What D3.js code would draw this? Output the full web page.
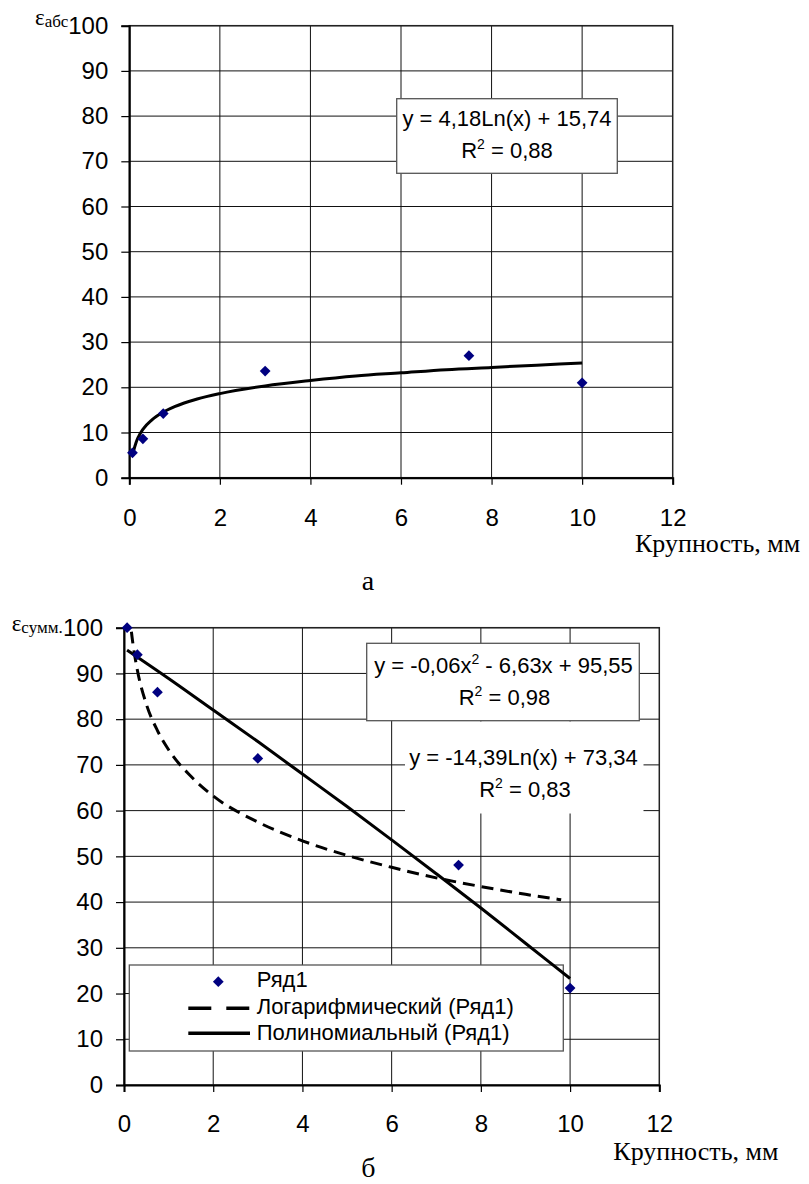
<!DOCTYPE html>
<html>
<head>
<meta charset="utf-8">
<script src="https://cdn.jsdelivr.net/npm/d3@7"></script>
<style>
  body { margin: 0; background: #fff; }
  .tick text { font-family: "Liberation Sans", Arial, sans-serif; font-size: 24px; fill: #000; }
  .eq { font-family: "Liberation Sans", Arial, sans-serif; font-size: 22px; fill: #000; }
  .serif { font-family: "Liberation Serif", "Times New Roman", serif; fill: #000; }
</style>
</head>
<body>
<svg id="chart" width="809" height="1184"></svg>
<script>
// axis ticks (both panels)
var xTicks = [0, 2, 4, 6, 8, 10, 12];
var yTicks = [0, 10, 20, 30, 40, 50, 60, 70, 80, 90, 100];

// panel a: points
var sizeA = [0.07, 0.3, 0.75, 3, 7.5, 10];
var epsAbs = [5.5, 8.6, 14.2, 23.6, 27.0, 21.0];
// panel a: logarithmic trend line
var logTrendAX = [0.07, 0.1, 0.15, 0.2, 0.3, 0.5, 0.75, 1, 1.5, 2, 3, 4, 5, 6, 7, 8, 9, 10];
var logTrendAY = [4.8, 6.1, 7.8, 9.0, 10.7, 12.8, 14.5, 15.7, 17.4, 18.6, 20.3, 21.5, 22.5, 23.2, 23.9, 24.4, 24.9, 25.4];

// panel b: points
var sizeB = [0.07, 0.3, 0.75, 3, 7.5, 10];
var epsSum = [100, 94.1, 85.9, 71.4, 48.1, 21.2];
// panel b: logarithmic trend (dashed)
var logTrendBX = [0.07, 0.1, 0.15, 0.2, 0.3, 0.5, 0.75, 1, 1.5, 2, 3, 4, 5, 6, 7, 8, 9, 9.8];
var logTrendBY = [111.6, 106.5, 100.6, 96.5, 90.7, 83.3, 77.5, 73.3, 67.5, 63.2, 57.5, 53.4, 50.2, 47.6, 45.3, 43.4, 41.7, 40.5];
// panel b: polynomial trend (solid)
var polyTrendBX = [0.07, 1, 2, 3, 4, 5, 6, 7, 8, 9, 10];
var polyTrendBY = [95.1, 88.9, 82.0, 75.1, 68.0, 60.9, 53.6, 46.2, 38.7, 31.0, 23.3];

// texts
var xLabel = 'Крупность, мм';
var legendNames = ['Ряд1', 'Логарифмический (Ряд1)', 'Полиномиальный (Ряд1)'];

var svg = d3.select('#chart');
var lineGen = d3.line().curve(d3.curveMonotoneX);

function zip(xs, ys) {
  return xs.map(function(v, i) { return [v, ys[i]]; });
}

// "y = ..." + optional superscript parts, centred at cx
function eqText(g, cx, cy, parts) {
  var t = g.append('text').attr('class', 'eq').attr('x', cx).attr('y', cy)
    .attr('text-anchor', 'middle');
  var raised = false;
  parts.forEach(function(p) {
    if (p.sup) {
      t.append('tspan').attr('dy', -9).style('font-size', '14px').text(p.sup);
      raised = true;
    } else {
      t.append('tspan').attr('dy', raised ? 9 : 0).text(p.t);
      raised = false;
    }
  });
}

function drawPanel(p) {
  var x = d3.scaleLinear().domain([0, 12]).range([p.left, p.right]);
  var y = d3.scaleLinear().domain([0, 100]).range([p.bottom, p.top]);
  var g = svg.append('g');

  svg.append('clipPath').attr('id', 'clip-' + p.id)
    .append('rect').attr('x', p.left).attr('y', p.top)
    .attr('width', p.right - p.left).attr('height', p.bottom - p.top);

  // grid
  g.append('g').selectAll('line').data(yTicks.slice(1)).join('line')
    .attr('x1', p.left).attr('x2', p.right)
    .attr('y1', function(d) { return y(d); }).attr('y2', function(d) { return y(d); })
    .attr('stroke', '#111').attr('stroke-width', 1);
  g.append('g').selectAll('line').data(xTicks.slice(1, -1)).join('line')
    .attr('y1', p.top).attr('y2', p.bottom)
    .attr('x1', function(d) { return x(d); }).attr('x2', function(d) { return x(d); })
    .attr('stroke', '#111').attr('stroke-width', 1);

  // white areas over the grid (equation labels, legend)
  p.blanks.forEach(function(b) {
    g.append('rect').attr('x', b[0]).attr('y', b[1]).attr('width', b[2] - b[0]).attr('height', b[3] - b[1])
      .attr('fill', '#fff');
  });
  p.boxes.forEach(function(b) {
    g.append('rect').attr('x', b[0]).attr('y', b[1]).attr('width', b[2] - b[0]).attr('height', b[3] - b[1])
      .attr('fill', '#fff').attr('stroke', '#555').attr('stroke-width', 1.3);
  });

  // plot frame
  g.append('rect').attr('x', p.left).attr('y', p.top)
    .attr('width', p.right - p.left).attr('height', p.bottom - p.top)
    .attr('fill', 'none').attr('stroke', '#222').attr('stroke-width', 1.5);

  // axes
  var ya = g.append('g').attr('transform', 'translate(' + p.left + ',0)')
    .call(d3.axisLeft(y).tickValues(yTicks).tickSize(8).tickPadding(13));
  var xa = g.append('g').attr('transform', 'translate(0,' + p.bottom + ')')
    .call(d3.axisBottom(x).tickValues(xTicks).tickSize(7).tickPadding(p.xPad));
  [ya, xa].forEach(function(a) {
    a.select('.domain').attr('stroke', '#000').attr('stroke-width', 2);
    a.selectAll('.tick line').attr('stroke', '#000').attr('stroke-width', 1.2);
  });

  if (p.legend) p.legend(g);

  // trend lines
  var curves = g.append('g').attr('clip-path', 'url(#clip-' + p.id + ')');
  p.lines.forEach(function(l) {
    curves.append('path')
      .attr('d', lineGen.x(function(d) { return x(d[0]); }).y(function(d) { return y(d[1]); })(zip(l.xs, l.ys)))
      .attr('fill', 'none').attr('stroke', '#000').attr('stroke-width', 3)
      .attr('stroke-dasharray', l.dash || null);
  });

  // points
  g.append('g').selectAll('path').data(zip(p.xs, p.ys)).join('path')
    .attr('d', d3.symbol(d3.symbolSquare, 58))
    .attr('transform', function(d) { return 'translate(' + x(d[0]) + ',' + y(d[1]) + ') rotate(45)'; })
    .attr('fill', '#000080');

  // x axis title
  g.append('text').attr('class', 'serif').attr('x', p.xlx).attr('y', p.xly)
    .style('font-size', '26px').text(xLabel);

  // y axis title
  var yt = g.append('text').attr('class', 'serif').attr('x', p.ylx).attr('y', p.yly);
  yt.append('tspan').style('font-size', '23px').text('ε');
  yt.append('tspan').attr('dy', 2).style('font-size', '17px').text(p.ySub);

  // panel letter
  g.append('text').attr('class', 'serif').attr('x', p.letterX).attr('y', p.letterY)
    .attr('text-anchor', 'middle').style('font-size', '28px').text(p.letter);

  p.equations(g);
}

drawPanel({
  id: 'a', left: 129.3, top: 25.7, right: 672.7, bottom: 477.7, xPad: 24,
  xs: sizeA, ys: epsAbs,
  lines: [{ xs: logTrendAX, ys: logTrendAY }],
  blanks: [],
  boxes: [[396.7, 98.7, 617.3, 173.3]],
  xlx: 635, xly: 551.5, ylx: 35, yly: 25, ySub: 'абс',
  letter: 'а', letterX: 368, letterY: 590,
  equations: function(g) {
    eqText(g, 507, 126, [{ t: 'y = 4,18Ln(x) + 15,74' }]);
    eqText(g, 507, 158, [{ t: 'R' }, { sup: '2' }, { t: ' = 0,88' }]);
  }
});

drawPanel({
  id: 'b', left: 124, top: 627.7, right: 659.3, bottom: 1085, xPad: 23,
  xs: sizeB, ys: epsSum,
  lines: [
    { xs: logTrendBX, ys: logTrendBY, dash: '12,7' },
    { xs: polyTrendBX, ys: polyTrendBY }
  ],
  blanks: [[405, 721.5, 643.5, 813.5]],
  boxes: [[366.7, 643.3, 639.3, 720.7], [129.3, 965, 563.3, 1051]],
  xlx: 613.3, xly: 1160, ylx: 11.7, yly: 630.5, ySub: 'сумм.',
  letter: 'б', letterX: 368.3, letterY: 1177,
  equations: function(g) {
    eqText(g, 503.5, 673, [{ t: 'y = -0,06x' }, { sup: '2' }, { t: ' - 6,63x + 95,55' }]);
    eqText(g, 504.5, 705, [{ t: 'R' }, { sup: '2' }, { t: ' = 0,98' }]);
    eqText(g, 523.5, 765, [{ t: 'y = -14,39Ln(x) + 73,34' }]);
    eqText(g, 525, 796.5, [{ t: 'R' }, { sup: '2' }, { t: ' = 0,83' }]);
  },
  legend: function(g) {
    var rows = [986.5, 1013.5, 1040];
    g.append('path').attr('d', d3.symbol(d3.symbolSquare, 58))
      .attr('transform', 'translate(218.3,981.7) rotate(45)').attr('fill', '#000080');
    g.append('line').attr('x1', 188.3).attr('x2', 249.3).attr('y1', 1008.3).attr('y2', 1008.3)
      .attr('stroke', '#000').attr('stroke-width', 3.5).attr('stroke-dasharray', '23,15');
    g.append('line').attr('x1', 188.3).attr('x2', 250).attr('y1', 1033.3).attr('y2', 1033.3)
      .attr('stroke', '#000').attr('stroke-width', 3.5);
    g.selectAll('.leg').data(legendNames).join('text').attr('class', 'eq')
      .attr('x', 256.7).attr('y', function(d, i) { return rows[i]; }).text(function(d) { return d; });
  }
});
</script>
</body>
</html>
